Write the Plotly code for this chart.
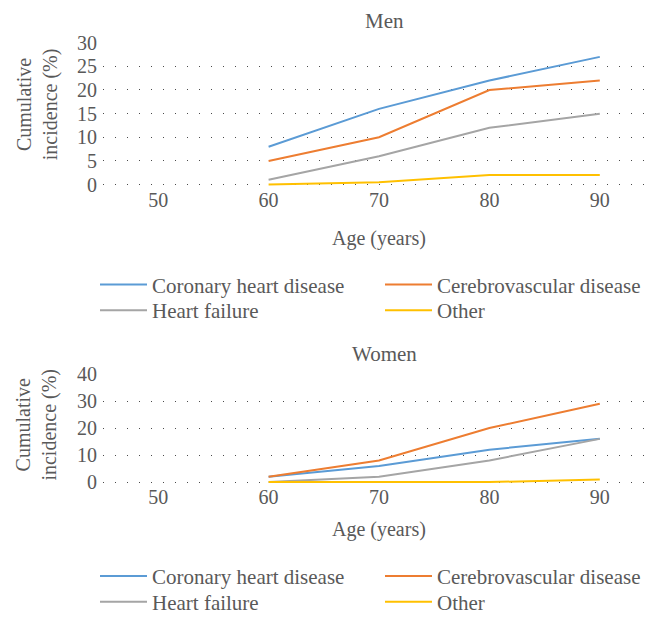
import plotly.graph_objects as go

ages = [60, 70, 80, 90]
series_names = ["Coronary heart disease", "Cerebrovascular disease", "Heart failure", "Other"]
colors = ["#5B9BD5", "#ED7D31", "#A5A5A5", "#FFC000"]

men_chd = [8, 16, 22, 27]
men_cbv = [5, 10, 20, 22]
men_hf = [1, 6, 12, 15]
men_other = [0, 0.5, 2, 2]

women_chd = [2, 6, 12, 16]
women_cbv = [2, 8, 20, 29]
women_hf = [0, 2, 8, 16]
women_other = [0, 0, 0, 1]

x_ticks = [50, 60, 70, 80, 90]
men_yticks = [0, 5, 10, 15, 20, 25, 30]
women_yticks = [0, 10, 20, 30, 40]

FONT = "Liberation Serif"
TXT = "#595959"
OFF = 8  # page body margin
W, H = 666 - 2 * OFF, 631 - 2 * OFF

# one legend box per entry: (legend id, column x px, row y px)
men_legends = [("legend", 95, 287), ("legend2", 380, 287), ("legend3", 95, 313), ("legend4", 380, 313)]
women_legends = [("legend5", 95, 581), ("legend6", 380, 581), ("legend7", 95, 607), ("legend8", 380, 607)]

fig = go.Figure()
# draw in reverse stacking so the lower series at zero stay visible
for vals, name, c, lg in zip([men_chd, men_cbv, men_hf, men_other], series_names, colors, men_legends):
    fig.add_trace(go.Scatter(x=ages, y=vals, mode="lines", name=name,
                             line=dict(color=c, width=2), xaxis="x", yaxis="y", legend=lg[0]))
for vals, name, c, lg in zip([women_chd, women_cbv, women_hf, women_other], series_names, colors, women_legends):
    fig.add_trace(go.Scatter(x=ages, y=vals, mode="lines", name=name,
                             line=dict(color=c, width=2), xaxis="x2", yaxis="y2", legend=lg[0]))

def py(pix):
    return 1 - (pix - OFF) / H

def px(pix):
    return (pix - OFF) / W

axis_common = dict(showline=False, zeroline=False, automargin=False,
                   tickfont=dict(family=FONT, size=20, color=TXT))
grid = dict(showgrid=True, gridcolor="#4a4a4a", griddash="1px,11px", gridwidth=1)

def legend_at(xpix, ypix):
    return dict(orientation="v", x=px(xpix), y=py(ypix), xanchor="left", yanchor="middle",
                itemwidth=47, font=dict(family=FONT, size=21, color=TXT),
                bgcolor="rgba(0,0,0,0)")

legend_layout = {lg: legend_at(xp, yp) for lg, xp, yp in men_legends + women_legends}

# small padding below zero so lines lying on zero are not clipped
men_pad = 0.3
women_pad = 0.5
men_px_per_unit = (186 - 43) / 30
women_px_per_unit = (486 - 377) / 40

fig.update_layout(
    width=W, height=H,
    margin=dict(l=0, r=0, t=0, b=0),
    paper_bgcolor="white", plot_bgcolor="white",
    font=dict(family=FONT, color=TXT, size=20),
    xaxis=dict(domain=[px(103), px(655)], range=[45, 95], tickvals=x_ticks, showgrid=False,
               anchor="y", **axis_common),
    yaxis=dict(domain=[py(186 + men_pad * men_px_per_unit), py(43)], range=[-men_pad, 30],
               tickvals=men_yticks, anchor="x", ticklabelstandoff=5, **grid, **axis_common),
    xaxis2=dict(domain=[px(103), px(655)], range=[45, 95], tickvals=x_ticks, showgrid=False,
                anchor="y2", **axis_common),
    yaxis2=dict(domain=[py(486 + women_pad * women_px_per_unit), py(377)], range=[-women_pad, 40],
                tickvals=women_yticks, anchor="x2", ticklabelstandoff=5, **grid, **axis_common),
    showlegend=True,
    **legend_layout,
)

def note(text, x, y, size=20, angle=0):
    return dict(text=text, x=px(x), y=py(y), xref="paper", yref="paper", showarrow=False,
                xanchor="center", yanchor="middle", textangle=angle,
                font=dict(family=FONT, size=size, color=TXT))

ann = [
    note("Men", 384, 21, 21),
    note("Women", 384, 357, 21),
    note("Age (years)", 379, 240),
    note("Age (years)", 379, 534),
    note("Cumulative<br>incidence (%)", 37, 105, angle=-90),
    note("Cumulative<br>incidence (%)", 37, 428, angle=-90),
]
fig.update_layout(annotations=ann)

fig.write_html("out.html")
